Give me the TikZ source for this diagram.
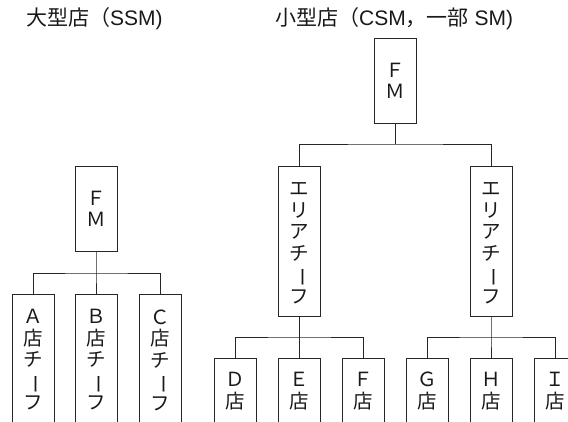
\documentclass[tikz,border=0pt]{standalone}
\usepackage{graphicx}
\usepackage{fontspec}
\setmainfont{Noto Sans CJK JP}
\newfontfamily\latf{Liberation Sans}
\newcommand\chouon{\rotatebox[origin=c]{-90}{ー}}
\begin{document}
\begin{tikzpicture}[x=1pt,y=-1pt,
  box/.style={draw=black!85,line width=0.8pt,minimum width=42pt,inner sep=0pt},
  vtxt/.style={font=\fontsize{19.5}{21.5}\selectfont,align=center,text=black!90,inner sep=0pt},
  ttl/.style={font=\fontsize{21}{24}\selectfont,text=black!90,inner sep=0pt,anchor=west},
  conn/.style={draw=black!85,line width=0.8pt}]
\useasboundingbox (0,0) rectangle (568,421);
\clip (0,0) rectangle (568,421);
% titles
\node[ttl] (t1) at (26,19) {大型店（{\latf SSM)}};
\node[ttl] (t2) at (275,19) {小型店（{\latf CSM}，一部{\latf\ SM)}};
% left group
\node[box,minimum height=85pt] (fmL) at (96,208.5) {};
\node[vtxt] (fmLt) at (96,209) {Ｆ\\Ｍ};
\foreach \n/\x/\l in {a/33/Ａ,b/96/Ｂ,c/160.5/Ｃ}{
  \node[box,minimum height=150pt,anchor=north] (\n) at (\x,294) {};
  \node[vtxt] (\n t) at (\x,360) {\l\\店\\チ\\\chouon\\フ};
}
\coordinate (jL) at (96,273);
\draw[conn] (fmL.south) -- (jL) -- (b.north);
\draw[conn] (a.north) |- (jL) -| (c.north);
% right group
\node[box,minimum height=85pt] (fmR) at (395.5,80.5) {};
\node[vtxt] (fmRt) at (395.5,81) {Ｆ\\Ｍ};
\node[box,minimum height=150pt] (ac1) at (299.5,241) {};
\node[vtxt] (ac1t) at (299.5,243) {エ\\リ\\ア\\チ\\\chouon\\フ};
\node[box,minimum height=150pt] (ac2) at (491,241) {};
\node[vtxt] (ac2t) at (491,243) {エ\\リ\\ア\\チ\\\chouon\\フ};
\coordinate (jR) at (395.5,144);
\draw[conn] (fmR.south) -- (jR);
\draw[conn] (ac1.north) |- (jR) -| (ac2.north);
\foreach \n/\x/\l in {d/235/Ｄ,e/299.5/Ｅ,f/363.5/Ｆ,g/427/Ｇ,h/491/Ｈ,i/555/Ｉ}{
  \node[box,minimum height=100pt,anchor=north] (\n) at (\x,358) {};
  \node[vtxt] (\n t) at (\x,391) {\l\\店};
}
\coordinate (j1) at (299.5,337);
\coordinate (j2) at (491,337);
\draw[conn] (ac1.south) -- (j1) -- (e.north);
\draw[conn] (d.north) |- (j1) -| (f.north);
\draw[conn] (ac2.south) -- (j2) -- (h.north);
\draw[conn] (g.north) |- (j2) -| (i.north);
\end{tikzpicture}
\end{document}
